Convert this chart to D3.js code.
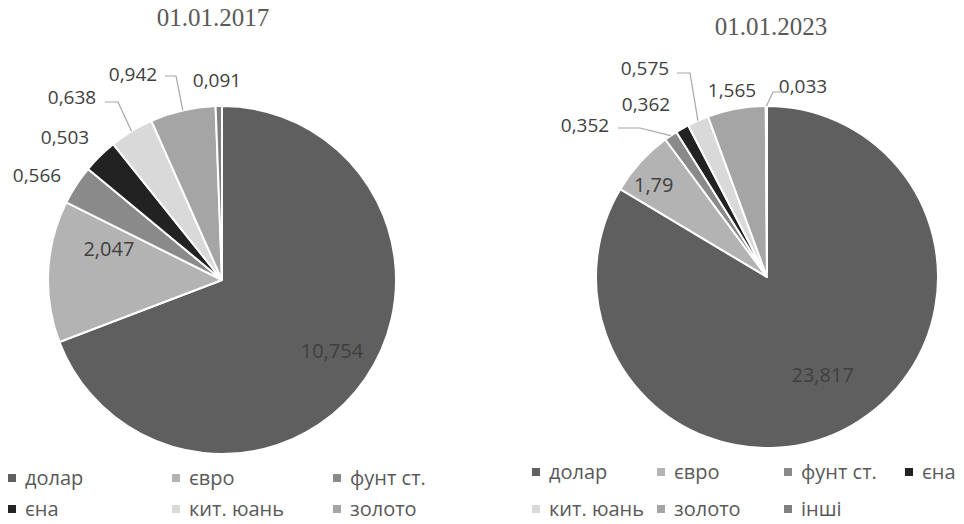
<!DOCTYPE html>
<html><head><meta charset="utf-8">
<script src="https://cdn.jsdelivr.net/npm/d3@7/dist/d3.min.js"></script>
<style>body{margin:0;background:#fff}svg{display:block}</style>
</head><body><svg id="c" width="964" height="524"></svg>
<script>
const categories = ["долар","євро","фунт ст.","єна","кит. юань","золото","інші"];
const values2017 = [10.754, 2.047, 0.566, 0.503, 0.638, 0.942, 0.091];
const values2023 = [23.817, 1.79, 0.352, 0.362, 0.575, 1.565, 0.033];
const labels2017 = ["10,754","2,047","0,566","0,503","0,638","0,942","0,091"];
const labels2023 = ["23,817","1,79","0,352","0,362","0,575","1,565","0,033"];
const titles = ["01.01.2017","01.01.2023"];
const colors = ["#5f5f5f","#b3b3b3","#8a8a8a","#222222","#d9d9d9","#a5a5a5","#808080"];

const svg = d3.select("#c");
const color = d3.scaleOrdinal().domain(categories).range(colors);

// layout config (positions not data)
const charts = [
  {values: values2017, labels: labels2017, title: titles[0], cx: 222, cy: 280, r: 174, tx: 213, ty: 26,
   inside: {0:[0.74,4,-2], 1:[0.72,12,-25]},
   outside: {2:[37,175,null], 3:[65,137,null], 4:[72,97,[[105,102],[118,102]]], 5:[133,74,[[165,76],[176,76]]], 6:[217,80,null]},
   legend: {x0: 8, cols: [0,164,325], rows: [478,509], perRow: 3, items: [0,1,2,3,4,5]}},
  {values: values2023, labels: labels2023, title: titles[1], cx: 767, cy: 277, r: 171, tx: 771, ty: 35,
   inside: {0:[0.66,0,0], 1:[0.8,-12,0]},
   outside: {2:[585,125,[[618,128],[640,128]]], 3:[646,104,null], 4:[645,68,[[677,73],[690,73]]], 5:[732,90,null], 6:[803,86,[[785,92],[773,92]]]},
   legend: {x0: 532, cols: [0,125,252,373], rows: [472,509], perRow: 4, items: [0,1,2,3,4,5,6]}}
];

charts.forEach(ch => {
  const g = svg.append("g");
  g.append("text").attr("x", ch.tx).attr("y", ch.ty).attr("text-anchor","middle")
    .attr("font-family","'Liberation Serif', 'Times New Roman', serif").attr("font-size", 25)
    .attr("fill","#595959").text(ch.title);
  const data = categories.map((c,i)=>({cat:c, v:ch.values[i], lab:ch.labels[i], i}));
  const pie = d3.pie().value(d=>d.v).sort(null);
  const arcs = pie(data);
  const arc = d3.arc().innerRadius(0).outerRadius(ch.r);
  const pg = g.append("g").attr("transform",`translate(${ch.cx},${ch.cy})`);
  pg.selectAll("path").data(arcs).join("path")
    .attr("d", arc).attr("fill", d=>color(d.data.cat))
    .attr("stroke","#fff").attr("stroke-width",2).attr("stroke-linejoin","round");
  arcs.forEach(a => {
    const ins = ch.inside[a.data.i];
    if (ins) {
      const la = d3.arc().innerRadius(ch.r*ins[0]).outerRadius(ch.r*ins[0]);
      const [x,y] = la.centroid(a);
      pg.append("text").attr("x", x+ins[1]).attr("y", y+ins[2]).attr("dy","0.35em")
        .attr("text-anchor","middle").attr("font-family","'Open Sans', sans-serif")
        .attr("font-size",20).attr("fill","#404040").text(a.data.lab);
    }
    const out = ch.outside[a.data.i];
    if (out) {
      g.append("text").attr("x", out[0]).attr("y", out[1]).attr("dy","0.35em")
        .attr("text-anchor","middle").attr("font-family","'Open Sans', sans-serif")
        .attr("font-size",19).attr("fill","#404040").text(a.data.lab);
      if (out[2]) {
        const mid = (a.startAngle + a.endAngle)/2;
        const ex = ch.cx + Math.sin(mid)*ch.r, ey = ch.cy - Math.cos(mid)*ch.r;
        const pts = out[2].concat([[ex,ey]]);
        g.append("path").attr("d", d3.line()(pts)).attr("fill","none")
          .attr("stroke","#a6a6a6").attr("stroke-width",1.2);
      }
    }
  });
  const L = ch.legend;
  L.items.forEach((idx,k) => {
    const col = k % L.perRow, row = Math.floor(k / L.perRow);
    const x = L.x0 + L.cols[col], y = L.rows[row];
    g.append("rect").attr("x", x).attr("y", y-4).attr("width",8).attr("height",8).attr("fill", colors[idx]);
    g.append("text").attr("x", x+17).attr("y", y).attr("dy","0.35em")
      .attr("font-family","'Open Sans', sans-serif").attr("font-size",20)
      .attr("fill","#595959").text(categories[idx]);
  });
});
</script></body></html>
